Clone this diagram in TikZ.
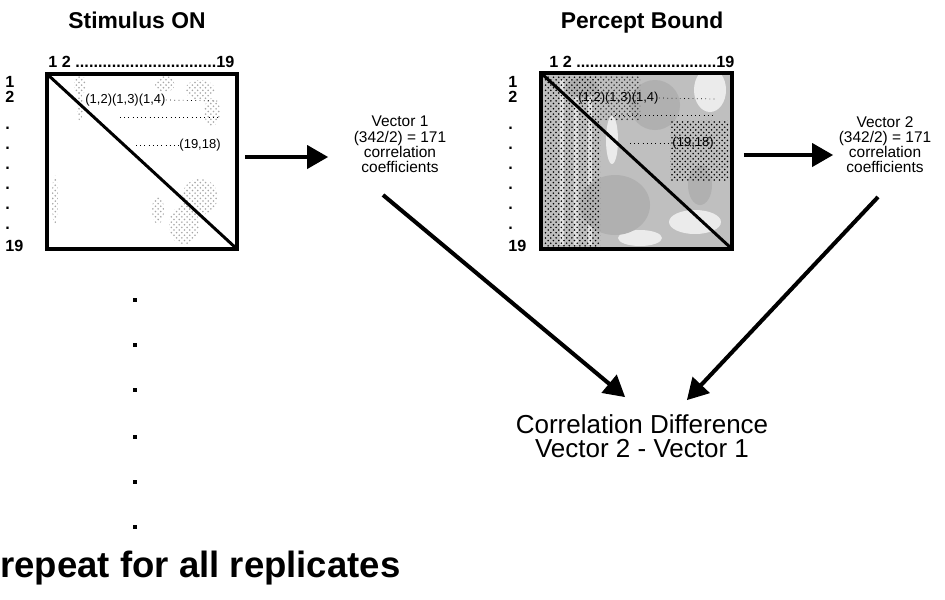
\documentclass[tikz,border=0pt]{standalone}
\usepackage{fontspec}
\setmainfont{Liberation Sans}
\usetikzlibrary{arrows}
\usetikzlibrary{patterns}

\tikzset{
  mat/.style={minimum width=3.8cm, minimum height=3.5cm, inner sep=0pt},
  frame/.style={line width=2.2pt},
  conn/.style={-triangle 60, line width=2.3pt},
  title/.style={font=\fontsize{13}{15}\selectfont\bfseries, anchor=base},
  idx/.style={font=\fontsize{9.2}{10}\selectfont\bfseries, inner sep=0pt},
  pair/.style={font=\fontsize{7.4}{8}\selectfont, inner sep=0pt},
  vec/.style={font=\fontsize{8.8}{8.6}\selectfont, align=center, inner sep=0pt},
  speck/.style={pattern=crosshatch dots, pattern color=#1},
}

\begin{document}
\begin{tikzpicture}[x=0.02cm, y=-0.02cm]
\useasboundingbox (0,0) rectangle (945,599);

% titles
\node[title] (t1) at (137,28) {Stimulus ON};
\node[title] (t2) at (642,28) {Percept Bound};

% matrices
\node[mat, fill=white] (stim) at (142,161.5) {};
\node[mat, fill=gray!50] (perc) at (636.5,161) {};

% texture of stimulus ON
\foreach \cx/\cy/\rx/\ry in {80/85/6/10, 165/84/10/8, 200/90/15/10, 212/112/8/14,
    200/197/18/18, 184/225/15/20, 55/200/3/25, 80/106/3/15, 158/210/6/14}
  \fill[speck=gray!70] (\cx,\cy) ellipse ({\rx*0.02cm} and {\ry*0.02cm});

% texture of percept bound
\foreach \cx/\cy/\rx/\ry in {710/90/16/22, 695/222/26/12, 640/238/22/8, 612/140/6/24}
  \fill[white, opacity=.7] (\cx,\cy) ellipse ({\rx*0.02cm} and {\ry*0.02cm});
\foreach \sx in {560,574,588}
  \fill[white, opacity=.55] (\sx,80) rectangle ++(4,165);
\foreach \cx/\cy/\rx/\ry in {655/105/25/25, 615/205/35/30, 582/88/16/10, 700/185/12/20}
  \fill[gray!62] (\cx,\cy) ellipse ({\rx*0.02cm} and {\ry*0.02cm});
\fill[speck=black] (544,76) rectangle (600,246);
\fill[speck=black] (670,120) rectangle (729,180);
\fill[speck=black!80] (600,76) rectangle (640,120);

% frames and diagonals
\foreach \m in {stim,perc} {
  \draw[frame] (\m.north west) rectangle (\m.south east);
  \draw[line width=1.7pt] (\m.north west) -- (\m.south east);
}

% column and row numbers
\node[idx, anchor=west] (s-top) at (48,62) {\hbox to 3.72cm{1 2 \xleaders\hbox{.}\hfill19}};
\node[idx, anchor=west] (p-top) at (549,62) {\hbox to 3.7cm{1 2 \xleaders\hbox{.}\hfill19}};
\foreach \cx/\m in {5/s,508/p} {
  \node[idx, anchor=west] (\m-r1) at (\cx,82) {1};
  \node[idx, anchor=west] (\m-r2) at (\cx,97) {2};
  \foreach \y [count=\i] in {127,147,...,227}
    \node[idx, anchor=base west] (\m-d\i) at (\cx,\y+2) {.};
  \node[idx, anchor=west] (\m-r19) at (\cx,246) {19};
}

% pair labels
\node[pair, anchor=west] (s-p1) at (85,100) {(1,2)(1,3)(1,4)};
\draw[dotted] (s-p1.east) -- (220,101);
\draw[dotted] (120,117) -- (220,117);
\node[pair, anchor=east] (s-p2) at (221,145) {(19,18)};
\draw[dotted] (136,145) -- (s-p2.west);

\node[pair, anchor=west] (p-p1) at (578,98) {(1,2)(1,3)(1,4)};
\draw[dotted] (p-p1.east) -- (715,99);
\draw[dotted] (615,115) -- (715,115);
\node[pair, anchor=east] (p-p2) at (714,143) {(19,18)};
\draw[dotted] (630,143) -- (p-p2.west);

% vectors
\node[vec, anchor=north] (v1) at (400,116) {Vector 1\\(342/2) = 171\\correlation\\coefficients};
\node[vec, anchor=north] (v2) at (885,116) {Vector 2\\(342/2) = 171\\correlation\\coefficients};
\node[anchor=north, font=\fontsize{14.8}{13.8}\selectfont, align=center, inner sep=0pt] (diff)
  at (642,414) {Correlation Difference\\Vector 2 - Vector 1};

\draw[conn, shorten >=1.44cm] ([xshift=0.16cm,yshift=0.09cm]stim.east) -- ([yshift=0.09cm]stim.east -| v1.north);
\draw[conn, shorten >=1.04cm] ([xshift=0.24cm,yshift=0.12cm]perc.east) -- ([yshift=0.12cm]perc.east -| v2.north);
\draw[conn] ([xshift=-0.34cm,yshift=-1.58cm]v1.north) -- ([xshift=-0.34cm,yshift=0.34cm]diff.north);
\draw[conn] ([xshift=-0.14cm,yshift=-1.62cm]v2.north) -- ([xshift=0.9cm,yshift=0.28cm]diff.north);

% replicates
\foreach \y in {300,345,390,437,482,527}
  \fill (133,\y-2) rectangle ++(4,4);
\node[anchor=base west, font=\fontsize{20.8}{24}\selectfont\bfseries, inner sep=0pt] (rep)
  at (0,577) {repeat for all replicates};
\end{tikzpicture}
\end{document}
